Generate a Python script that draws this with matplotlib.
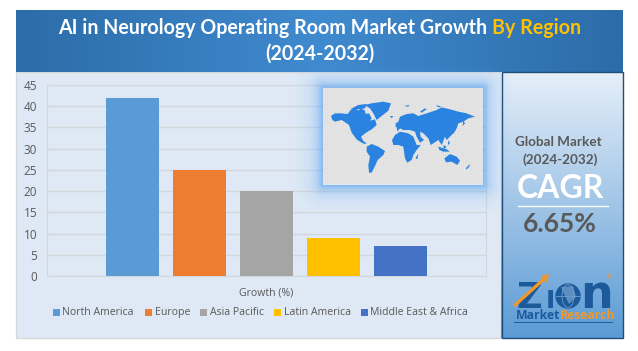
"""
AI in Neurology Operating Room market growth by region
"""

import numpy as np
import matplotlib
matplotlib.use("Agg")
import matplotlib.pyplot as plt
from matplotlib.patches import Polygon, Rectangle, Circle, Ellipse

W = 638
H = 351

regions = ["North America", "Europe", "Asia Pacific", "Latin America", "Middle East & Africa"]
growth = [42, 25, 20, 9, 7]
bar_colors = ["#5B9BD5", "#ED7D31", "#A5A5A5", "#FFC000", "#4472C4"]
y_ticks = [0, 5, 10, 15, 20, 25, 30, 35, 40, 45]

# rough world outline, pixels of 3x crops of the map box
land_west = [
    [(18, 78), (30, 70), (48, 70), (68, 72), (75, 62), (90, 52), (100, 62), (108, 55), (120, 62), (122, 72), (132, 70),
     (140, 85), (135, 92), (150, 88), (155, 105), (140, 118), (128, 125), (118, 132), (108, 140), (115, 153),
     (125, 160), (118, 162), (105, 155), (95, 148), (80, 128), (72, 105), (50, 90), (30, 95), (22, 90)],
    [(75, 58), (100, 45), (125, 42), (120, 55), (100, 58)],
    [(118, 45), (140, 40), (175, 35), (198, 40), (190, 62), (170, 78), (155, 90), (145, 70), (135, 55)],
    [(125, 170), (140, 162), (160, 170), (180, 183), (175, 195), (158, 210), (150, 228), (140, 248), (132, 248),
     (130, 225), (135, 200), (125, 185)],
    [(195, 78), (205, 78), (200, 85)],
    [(212, 100), (220, 95), (222, 110), (212, 112)],
]
land_east = [
    [(-24, 150), (-15, 135), (0, 125), (25, 130), (40, 140), (50, 165), (62, 165), (50, 180), (40, 195), (35, 210),
     (22, 218), (15, 205), (10, 170), (-5, 165), (-20, 165)],
    [(0, 80), (20, 72), (40, 70), (55, 78), (80, 70), (110, 60), (125, 52), (150, 58), (175, 65), (200, 70), (225, 80),
     (205, 85), (190, 95), (175, 100), (170, 115), (155, 135), (140, 150), (135, 140), (125, 165), (115, 150),
     (100, 160), (92, 165), (85, 145), (70, 130), (60, 125), (62, 140), (72, 150), (60, 158), (50, 140), (45, 125),
     (30, 120), (10, 120), (0, 115), (-8, 125), (-10, 110), (-5, 95)],
    [(155, 125), (165, 112), (168, 118), (160, 132)],
    [(115, 170), (140, 178), (150, 185), (130, 185), (118, 180)],
    [(130, 165), (140, 170), (132, 178)],
    [(145, 150), (150, 160), (144, 165)],
    [(133, 205), (150, 192), (170, 200), (180, 212), (172, 225), (155, 215), (138, 217)],
    [(197, 235), (210, 222), (208, 230), (200, 238)],
    [(50, 198), (55, 192), (52, 208), (47, 205)],
    [(190, 92), (195, 100), (188, 108)],
    [(60, 65), (75, 55), (80, 58), (65, 68)],
    [(108, 45), (125, 50), (115, 52)],
    [(12, 48), (28, 45), (25, 50)],
]

fig = plt.figure(figsize=(W / 100, H / 100), dpi=100, facecolor="white")

# backdrop, drawn in image pixels
bg = fig.add_axes([0, 0, 1, 1], zorder=0)
bg.axis("off")

bg.add_patch(Rectangle((16, 72), 485, 266, fc="#DEE9F5", ec="#D5D9DE", lw=1))

xx = np.linspace(-1, 1, 300)
header = np.abs(xx)[None, :, None]
c_mid = np.array([0x40, 0x8A, 0xCF]) / 255
c_edge = np.array([0x2C, 0x6C, 0xA8]) / 255
bg.imshow(c_mid + (c_edge - c_mid) * header, extent=(16, 623, 72, 10), aspect="auto", zorder=1)

yy = np.linspace(0, 1, 300)[:, None, None]
c_top = np.array([0xE6, 0xEF, 0xF9]) / 255
c_bot = np.array([0x5B, 0x9B, 0xD5]) / 255
bg.imshow(c_top + (c_bot - c_top) * yy, extent=(501, 623, 338, 72), aspect="auto", zorder=1)
bg.add_patch(Rectangle((501.5, 72), 121, 266, fc="none", ec="#1F4E79", lw=1, zorder=2))
bg.set_xlim(0, W)
bg.set_ylim(H, 0)

# chart
ax = fig.add_axes([47 / W, 1 - 276 / H, 439 / W, 191 / H], zorder=1)
ax.patch.set_visible(False)
ax.bar(range(5), growth, width=0.79, color=bar_colors, zorder=3)
ax.set_xlim(2 - 219.5 / 67, 2 + 219.5 / 67)
ax.set_ylim(0, 45)
ax.set_yticks(y_ticks)
ax.set_xticks([])
ax.tick_params(axis="y", length=0, labelsize=8.5, labelcolor="#595959", pad=7)
ax.grid(axis="y", color="#D3D7DC", lw=1, zorder=0)
for sp in ax.spines.values():
    sp.set_color("#D3D7DC")
for lab in ax.get_yticklabels():
    lab.set_family("Open Sans")
ax.set_xlabel("Growth (%)", fontsize=7.6, color="#595959", family="Open Sans", labelpad=8)

# everything else on a pixel axes
top = fig.add_axes([0, 0, 1, 1], zorder=2)
top.axis("off")

legend_x = [53, 145, 200, 274, 361]
for name, col, lx in zip(regions, bar_colors, legend_x):
    top.add_patch(Rectangle((lx, 309), 6.5, 6.5, fc=col, ec="none"))
    top.text(lx + 9.5, 312.5, name, fontsize=7.6, color="#595959", family="Open Sans", va="center")

# map box with a blue glow
gx, gy = np.meshgrid(np.arange(295, 510), np.arange(65, 210))
dx = np.maximum(np.maximum(323 - gx, gx - 482), 0)
dy = np.maximum(np.maximum(88 - gy, gy - 184), 0)
dist = np.hypot(dx, dy)
glow = np.zeros(gx.shape + (4,))
glow[..., :3] = np.array([0x5B, 0xA3, 0xEE]) / 255
glow[..., 3] = np.clip(0.75 * np.exp(-dist / 8), 0, 1) * (dist > 0)
top.imshow(glow, extent=(295, 510, 210, 65), aspect="auto", zorder=1)

gray = np.full((96, 159, 3), 0.92)
gray[::2, :, :] = 0.88
gray[:, ::2, :] = 0.88
top.imshow(gray, extent=(323, 482, 184, 88), aspect="auto", zorder=2, interpolation="nearest")
top.set_xlim(0, W)
top.set_ylim(H, 0)

for shape in land_west:
    pts = [(325 + px / 3, 90 + py / 3) for px, py in shape]
    top.add_patch(Polygon(pts, closed=True, fc="#2A83E0", ec="none", zorder=3))
for shape in land_east:
    pts = [(400 + px / 3, 90 + py / 3) for px, py in shape]
    top.add_patch(Polygon(pts, closed=True, fc="#2A83E0", ec="none", zorder=3))

# title, second part coloured
fig.canvas.draw()
rend = fig.canvas.get_renderer()
t1 = top.text(0, 28, "AI in Neurology Operating Room Market Growth ", fontsize=14.15, fontweight="bold",
              color="white", family="Lato", va="center")
t2 = top.text(0, 28, "By Region", fontsize=14.15, fontweight="bold", color="#FFC000", family="Lato", va="center")
w1 = t1.get_window_extent(rend).width
w2 = t2.get_window_extent(rend).width
start = 319.5 - (w1 + w2) / 2
t1.set_x(start)
t2.set_x(start + w1)
top.text(319.5, 54, "(2024-2032)", fontsize=14.15, fontweight="bold", color="white", family="Lato",
         ha="center", va="center")

# side panel
top.text(558.5, 142, "Global Market", fontsize=9.7, fontweight="bold", color="#595959", family="Lato",
         ha="center", va="center")
top.text(560, 160, "(2024-2032)", fontsize=9.7, fontweight="bold", color="#595959", family="Lato",
         ha="center", va="center")
top.text(560, 188, "CAGR", fontsize=23, fontweight="bold", color="white", family="Lato", ha="center", va="center")
top.plot([518, 608], [206, 206], color="white", lw=1)
top.text(559.5, 224, "6.65%", fontsize=19, fontweight="bold", color="#595959", family="Lato",
         ha="center", va="center")

# logo
blue = "#1C5A9C"
orange = "#F0982B"
top.text(529, 308, "Z", fontsize=25.5, fontweight="bold", color=blue, family="DejaVu Sans", ha="center", va="baseline")
top.text(550, 308, "I", fontsize=18, fontweight="bold", color=blue, family="DejaVu Sans", ha="center", va="baseline")
top.text(596, 308, "n", fontsize=33, fontweight="bold", color=blue, family="DejaVu Sans", ha="center", va="baseline")
top.plot([515, 544], [305, 279], color=orange, lw=2.4, solid_capstyle="round", zorder=4)
top.add_patch(Polygon([(541, 276), (549, 274), (547, 283)], closed=True, fc=orange, ec="none", zorder=4))
top.add_patch(Circle((568, 296), 12.7, fc=blue, ec="none", zorder=3))
top.add_patch(Ellipse((568, 296), 12, 23, fc="none", ec="#6E9CCB", lw=0.6, zorder=4))
top.plot([556, 580], [296, 296], color="#6E9CCB", lw=0.6, zorder=4)
top.add_patch(Polygon([(561, 287), (573, 286), (576, 297), (569, 304), (565, 296)], closed=True, fc="#6E9CCB",
                      ec="none", alpha=0.8, zorder=4))
top.text(610, 277, "®", fontsize=5, color=orange, family="DejaVu Sans", ha="center", va="center")
top.text(516, 315.5, "Market", fontsize=8.8, fontweight="bold", color=blue, family="Open Sans", va="center")
top.text(560, 315.5, "Research", fontsize=8.8, fontweight="bold", color=orange, family="Open Sans", va="center")
top.plot([514, 612], [321.5, 321.5], color=blue, lw=0.7)

top.set_xlim(0, W)
top.set_ylim(H, 0)

fig.savefig("out.png", dpi=100)
